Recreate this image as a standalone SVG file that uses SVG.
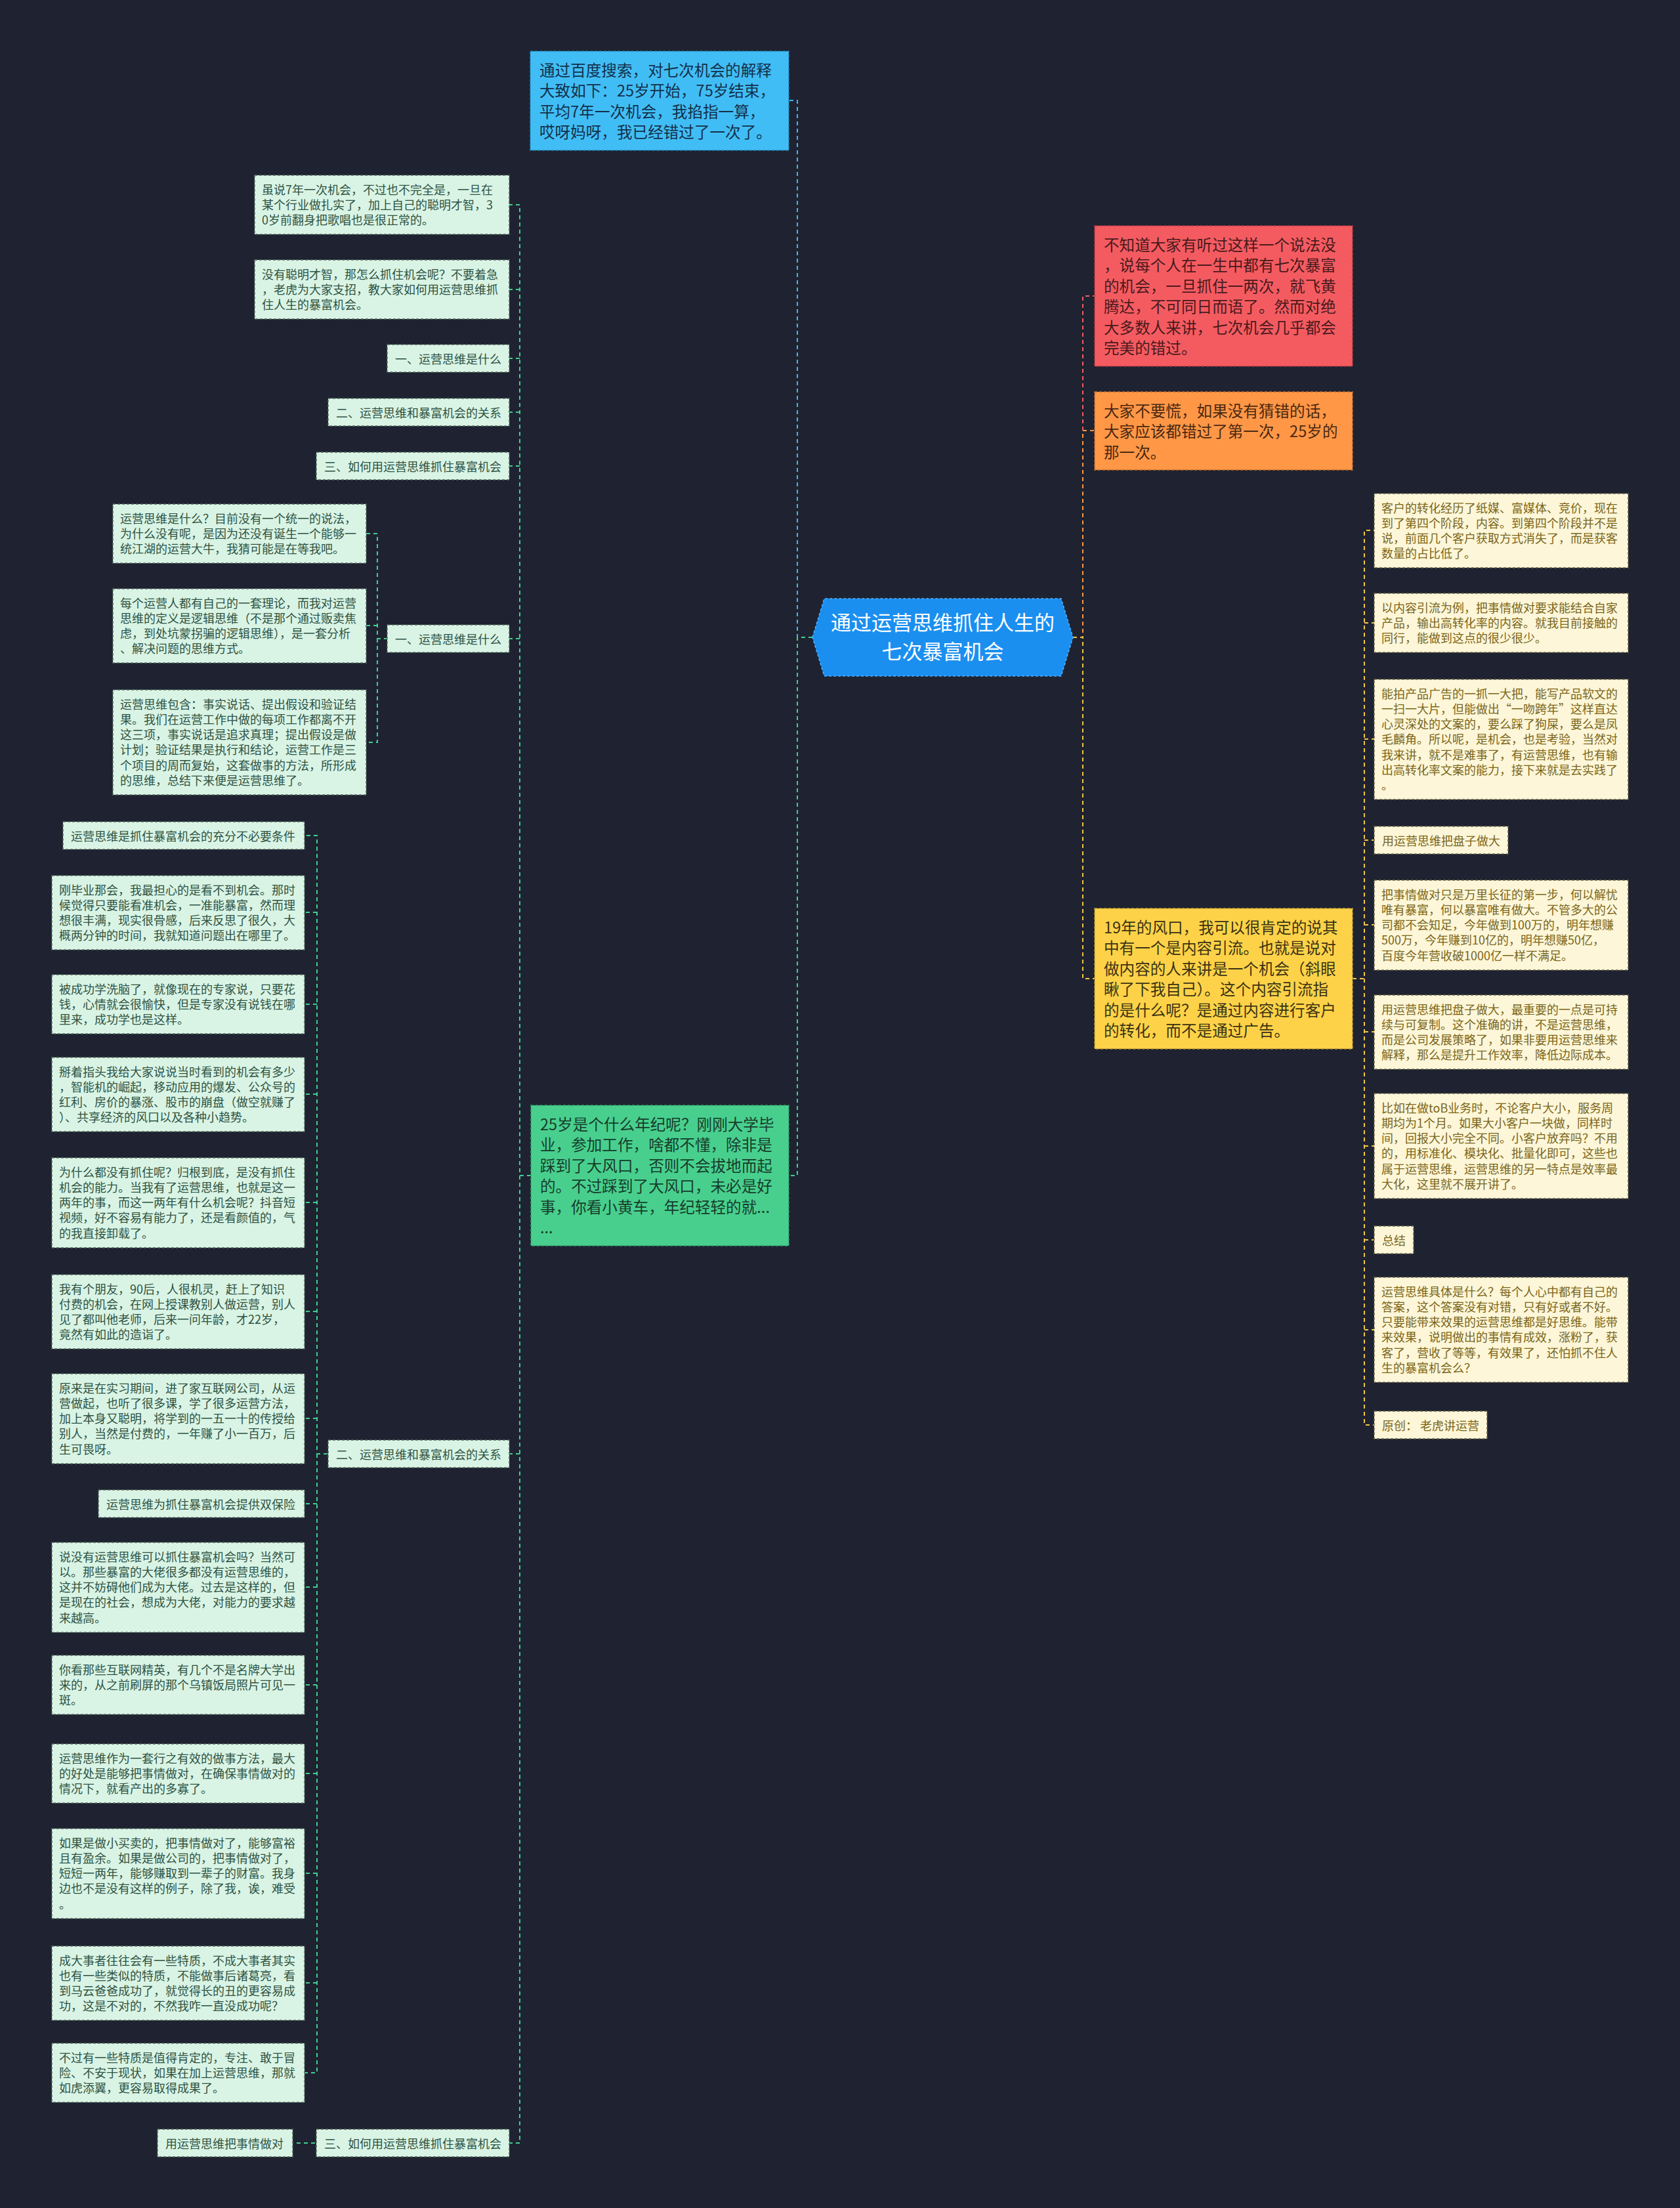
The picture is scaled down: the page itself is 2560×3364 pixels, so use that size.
<svg xmlns="http://www.w3.org/2000/svg" width="2560" height="3364" viewBox="0 0 2560 3364">
<style>
text{font-family:"Noto Sans CJK SC","Noto Sans",sans-serif;}
.bg{fill:#1f2331;}
.lg{fill:#d9f4e5;stroke:#55695f;stroke-width:1.5;stroke-dasharray:4 3;}
.ly{fill:#fdf6d8;stroke:#6e6548;stroke-width:1.5;stroke-dasharray:4 3;}
.tg{font-size:18px;fill:#2e5242;}
.ty{font-size:18px;fill:#7a6518;}
.t1{font-size:23.6px;}
.c{fill:none;stroke-width:2;stroke-dasharray:6 5;}
.cg{stroke:#3fcf8f;}
.cy{stroke:#f2c443;}
.cb{stroke:#3cb9f0;}
.cr{stroke:#f25a5f;}
.co{stroke:#ff9844;}
</style>
<rect class="bg" x="0" y="0" width="2560" height="3364"/>

<g id="connectors">
<path class="c cb" d="M1238,971 H1215 V153 H1202"/>
<path class="c cg" d="M1238,971 H1215 V1791 H1202"/>
<path class="c cr" d="M1635,971 H1650 V451 H1668"/>
<path class="c co" d="M1635,971 H1650 V656 H1668"/>
<path class="c cy" d="M1635,971 H1650 V1491 H1668"/>
<path class="c cg" d="M809,1791 H792 V312 H776 M792,441 H776 M792,546 H776 M792,628 H776 M792,710 H776 M792,973 H776 M792,2215 H776 M792,1791 V3265 H776"/>
<path class="c cg" d="M591,973 H575 V813 H558 M575,973 V1131 H558 M575,953 H558"/>
<path class="c cg" d="M499,2215 H483 V1273 H464 M483,1390 H464 M483,1530 H464 M483,1667 H464 M483,1832 H464 M483,1998 H464 M483,2161 H464 M483,2215 V3158 H464 M483,2291 H464 M483,2418 H464 M483,2567 H464 M483,2702 H464 M483,2854 H464 M483,3021 H464"/>
<path class="c cg" d="M480,3265 H446"/>
<path class="c cy" d="M2061,1491 H2079 V808 H2094 M2079,949 H2094 M2079,1126 H2094 M2079,1280 H2094 M2079,1491 V2171 H2094 M2079,1409 H2094 M2079,1572 H2094 M2079,1746 H2094 M2079,1889 H2094 M2079,2026 H2094"/>
</g>

<g id="n-center">
<polygon points="1238,971 1256,912 1617,912 1635,971 1617,1030 1256,1030" fill="#1b8ff0" stroke="#4fb0ff" stroke-width="1.5" stroke-dasharray="4 3"/>
<text x="1436.5" y="960" font-size="31" fill="#ffffff" text-anchor="middle">通过运营思维抓住人生的</text>
<text x="1436.5" y="1004" font-size="31" fill="#ffffff" text-anchor="middle">七次暴富机会</text>
</g>

<g id="n-blue">
<rect x="808" y="78" width="394" height="151" fill="#41bdf5" stroke="#2384b8" stroke-width="1.5" stroke-dasharray="4 3"/>
<text class="t1" fill="#13304a"><tspan x="822" y="115.5">通过百度搜索，对七次机会的解释</tspan><tspan x="822" y="147">大致如下：25岁开始，75岁结束，</tspan><tspan x="822" y="178.5">平均7年一次机会，我掐指一算，</tspan><tspan x="822" y="210">哎呀妈呀，我已经错过了一次了。</tspan></text>
</g>

<g id="n-red">
<rect x="1668" y="344" width="393" height="214" fill="#f45b61" stroke="#b83a40" stroke-width="1.5" stroke-dasharray="4 3"/>
<text class="t1" fill="#4a1a1c"><tspan x="1682" y="381.5">不知道大家有听过这样一个说法没</tspan><tspan x="1682" y="413">，说每个人在一生中都有七次暴富</tspan><tspan x="1682" y="444.5">的机会，一旦抓住一两次，就飞黄</tspan><tspan x="1682" y="476">腾达，不可同日而语了。然而对绝</tspan><tspan x="1682" y="507.5">大多数人来讲，七次机会几乎都会</tspan><tspan x="1682" y="539">完美的错过。</tspan></text>
</g>

<g id="n-orange">
<rect x="1668" y="597" width="393" height="119" fill="#ff9747" stroke="#c46e2e" stroke-width="1.5" stroke-dasharray="4 3"/>
<text class="t1" fill="#4a2810"><tspan x="1682" y="634.5">大家不要慌，如果没有猜错的话，</tspan><tspan x="1682" y="666">大家应该都错过了第一次，25岁的</tspan><tspan x="1682" y="697.5">那一次。</tspan></text>
</g>

<g id="n-yellow">
<rect x="1668" y="1384" width="393" height="214" fill="#fdd248" stroke="#bf9c30" stroke-width="1.5" stroke-dasharray="4 3"/>
<text class="t1" fill="#3b3213"><tspan x="1682" y="1421.5">19年的风口，我可以很肯定的说其</tspan><tspan x="1682" y="1453">中有一个是内容引流。也就是说对</tspan><tspan x="1682" y="1484.5">做内容的人来讲是一个机会（斜眼</tspan><tspan x="1682" y="1516">瞅了下我自己）。这个内容引流指</tspan><tspan x="1682" y="1547.5">的是什么呢？是通过内容进行客户</tspan><tspan x="1682" y="1579">的转化，而不是通过广告。</tspan></text>
</g>

<g id="n-green">
<rect x="809" y="1684" width="393" height="214" fill="#48cf8e" stroke="#2f9e68" stroke-width="1.5" stroke-dasharray="4 3"/>
<text class="t1" fill="#163d2a"><tspan x="823" y="1721.5">25岁是个什么年纪呢？刚刚大学毕</tspan><tspan x="823" y="1753">业，参加工作，啥都不懂，除非是</tspan><tspan x="823" y="1784.5">踩到了大风口，否则不会拔地而起</tspan><tspan x="823" y="1816">的。不过踩到了大风口，未必是好</tspan><tspan x="823" y="1847.5">事，你看小黄车，年纪轻轻的就...</tspan><tspan x="823" y="1879">...</tspan></text>
</g>

<g id="g1"><rect class="lg" x="388" y="267" width="388" height="90"/><text class="tg"><tspan x="399" y="295.5">虽说7年一次机会，不过也不完全是，一旦在</tspan><tspan x="399" y="318.8">某个行业做扎实了，加上自己的聪明才智，3</tspan><tspan x="399" y="342.1">0岁前翻身把歌唱也是很正常的。</tspan></text></g>
<g id="g2"><rect class="lg" x="388" y="396" width="388" height="90"/><text class="tg"><tspan x="399" y="424.5">没有聪明才智，那怎么抓住机会呢？不要着急</tspan><tspan x="399" y="447.8">，老虎为大家支招，教大家如何用运营思维抓</tspan><tspan x="399" y="471.1">住人生的暴富机会。</tspan></text></g>
<g id="g3"><rect class="lg" x="590" y="525" width="186" height="42"/><text class="tg" x="602" y="553.5">一、运营思维是什么</text></g>
<g id="g4"><rect class="lg" x="500" y="607" width="276" height="42"/><text class="tg" x="512" y="635.5">二、运营思维和暴富机会的关系</text></g>
<g id="g5"><rect class="lg" x="482" y="689" width="294" height="42"/><text class="tg" x="494" y="717.5">三、如何用运营思维抓住暴富机会</text></g>

<g id="g6"><rect class="lg" x="590" y="952" width="186" height="42"/><text class="tg" x="602" y="980.5">一、运营思维是什么</text></g>
<g id="c1"><rect class="lg" x="172" y="768" width="386" height="90"/><text class="tg"><tspan x="183" y="796.5">运营思维是什么？目前没有一个统一的说法，</tspan><tspan x="183" y="819.8">为什么没有呢，是因为还没有诞生一个能够一</tspan><tspan x="183" y="843.1">统江湖的运营大牛，我猜可能是在等我吧。</tspan></text></g>
<g id="c2"><rect class="lg" x="172" y="897" width="386" height="113"/><text class="tg"><tspan x="183" y="925.5">每个运营人都有自己的一套理论，而我对运营</tspan><tspan x="183" y="948.8">思维的定义是逻辑思维（不是那个通过贩卖焦</tspan><tspan x="183" y="972.1">虑，到处坑蒙拐骗的逻辑思维），是一套分析</tspan><tspan x="183" y="995.4">、解决问题的思维方式。</tspan></text></g>
<g id="c3"><rect class="lg" x="172" y="1051" width="386" height="160"/><text class="tg"><tspan x="183" y="1079.5">运营思维包含：事实说话、提出假设和验证结</tspan><tspan x="183" y="1102.8">果。我们在运营工作中做的每项工作都离不开</tspan><tspan x="183" y="1126.1">这三项，事实说话是追求真理；提出假设是做</tspan><tspan x="183" y="1149.4">计划；验证结果是执行和结论，运营工作是三</tspan><tspan x="183" y="1172.7">个项目的周而复始，这套做事的方法，所形成</tspan><tspan x="183" y="1196">的思维，总结下来便是运营思维了。</tspan></text></g>

<g id="g7"><rect class="lg" x="500" y="2194" width="276" height="42"/><text class="tg" x="512" y="2222.5">二、运营思维和暴富机会的关系</text></g>
<g id="d1"><rect class="lg" x="96" y="1252" width="368" height="42"/><text class="tg" x="108" y="1280.5">运营思维是抓住暴富机会的充分不必要条件</text></g>
<g id="d2"><rect class="lg" x="79" y="1334" width="385" height="113"/><text class="tg"><tspan x="90" y="1362.5">刚毕业那会，我最担心的是看不到机会。那时</tspan><tspan x="90" y="1385.8">候觉得只要能看准机会，一准能暴富，然而理</tspan><tspan x="90" y="1409.1">想很丰满，现实很骨感，后来反思了很久，大</tspan><tspan x="90" y="1432.4">概两分钟的时间，我就知道问题出在哪里了。</tspan></text></g>
<g id="d3"><rect class="lg" x="79" y="1485" width="385" height="90"/><text class="tg"><tspan x="90" y="1513.5">被成功学洗脑了，就像现在的专家说，只要花</tspan><tspan x="90" y="1536.8">钱，心情就会很愉快，但是专家没有说钱在哪</tspan><tspan x="90" y="1560.1">里来，成功学也是这样。</tspan></text></g>
<g id="d4"><rect class="lg" x="79" y="1611" width="385" height="113"/><text class="tg"><tspan x="90" y="1639.5">掰着指头我给大家说说当时看到的机会有多少</tspan><tspan x="90" y="1662.8">，智能机的崛起，移动应用的爆发、公众号的</tspan><tspan x="90" y="1686.1">红利、房价的暴涨、股市的崩盘（做空就赚了</tspan><tspan x="90" y="1709.4">）、共享经济的风口以及各种小趋势。</tspan></text></g>
<g id="d5"><rect class="lg" x="79" y="1764" width="385" height="137"/><text class="tg"><tspan x="90" y="1792.5">为什么都没有抓住呢？归根到底，是没有抓住</tspan><tspan x="90" y="1815.8">机会的能力。当我有了运营思维，也就是这一</tspan><tspan x="90" y="1839.1">两年的事，而这一两年有什么机会呢？抖音短</tspan><tspan x="90" y="1862.4">视频，好不容易有能力了，还是看颜值的，气</tspan><tspan x="90" y="1885.7">的我直接卸载了。</tspan></text></g>
<g id="d6"><rect class="lg" x="79" y="1942" width="385" height="113"/><text class="tg"><tspan x="90" y="1970.5">我有个朋友，90后，人很机灵，赶上了知识</tspan><tspan x="90" y="1993.8">付费的机会，在网上授课教别人做运营，别人</tspan><tspan x="90" y="2017.1">见了都叫他老师，后来一问年龄，才22岁，</tspan><tspan x="90" y="2040.4">竟然有如此的造诣了。</tspan></text></g>
<g id="d7"><rect class="lg" x="79" y="2093" width="385" height="137"/><text class="tg"><tspan x="90" y="2121.5">原来是在实习期间，进了家互联网公司，从运</tspan><tspan x="90" y="2144.8">营做起，也听了很多课，学了很多运营方法，</tspan><tspan x="90" y="2168.1">加上本身又聪明，将学到的一五一十的传授给</tspan><tspan x="90" y="2191.4">别人，当然是付费的，一年赚了小一百万，后</tspan><tspan x="90" y="2214.7">生可畏呀。</tspan></text></g>
<g id="d8"><rect class="lg" x="150" y="2270" width="314" height="42"/><text class="tg" x="162" y="2298.5">运营思维为抓住暴富机会提供双保险</text></g>
<g id="d9"><rect class="lg" x="79" y="2350" width="385" height="137"/><text class="tg"><tspan x="90" y="2378.5">说没有运营思维可以抓住暴富机会吗？当然可</tspan><tspan x="90" y="2401.8">以。那些暴富的大佬很多都没有运营思维的，</tspan><tspan x="90" y="2425.1">这并不妨碍他们成为大佬。过去是这样的，但</tspan><tspan x="90" y="2448.4">是现在的社会，想成为大佬，对能力的要求越</tspan><tspan x="90" y="2471.7">来越高。</tspan></text></g>
<g id="d10"><rect class="lg" x="79" y="2522" width="385" height="90"/><text class="tg"><tspan x="90" y="2550.5">你看那些互联网精英，有几个不是名牌大学出</tspan><tspan x="90" y="2573.8">来的，从之前刷屏的那个乌镇饭局照片可见一</tspan><tspan x="90" y="2597.1">斑。</tspan></text></g>
<g id="d11"><rect class="lg" x="79" y="2657" width="385" height="90"/><text class="tg"><tspan x="90" y="2685.5">运营思维作为一套行之有效的做事方法，最大</tspan><tspan x="90" y="2708.8">的好处是能够把事情做对，在确保事情做对的</tspan><tspan x="90" y="2732.1">情况下，就看产出的多寡了。</tspan></text></g>
<g id="d12"><rect class="lg" x="79" y="2786" width="385" height="137"/><text class="tg"><tspan x="90" y="2814.5">如果是做小买卖的，把事情做对了，能够富裕</tspan><tspan x="90" y="2837.8">且有盈余。如果是做公司的，把事情做对了，</tspan><tspan x="90" y="2861.1">短短一两年，能够赚取到一辈子的财富。我身</tspan><tspan x="90" y="2884.4">边也不是没有这样的例子，除了我，诶，难受</tspan><tspan x="90" y="2907.7">。</tspan></text></g>
<g id="d13"><rect class="lg" x="79" y="2965" width="385" height="113"/><text class="tg"><tspan x="90" y="2993.5">成大事者往往会有一些特质，不成大事者其实</tspan><tspan x="90" y="3016.8">也有一些类似的特质，不能做事后诸葛亮，看</tspan><tspan x="90" y="3040.1">到马云爸爸成功了，就觉得长的丑的更容易成</tspan><tspan x="90" y="3063.4">功，这是不对的，不然我咋一直没成功呢？</tspan></text></g>
<g id="d14"><rect class="lg" x="79" y="3113" width="385" height="90"/><text class="tg"><tspan x="90" y="3141.5">不过有一些特质是值得肯定的，专注、敢于冒</tspan><tspan x="90" y="3164.8">险、不安于现状，如果在加上运营思维，那就</tspan><tspan x="90" y="3188.1">如虎添翼，更容易取得成果了。</tspan></text></g>

<g id="g8"><rect class="lg" x="482" y="3244" width="294" height="42"/><text class="tg" x="494" y="3272.5">三、如何用运营思维抓住暴富机会</text></g>
<g id="e1"><rect class="lg" x="240" y="3244" width="206" height="42"/><text class="tg" x="252" y="3272.5">用运营思维把事情做对</text></g>

<g id="r1"><rect class="ly" x="2094" y="752" width="387" height="113"/><text class="ty"><tspan x="2105" y="780.5">客户的转化经历了纸媒、富媒体、竞价，现在</tspan><tspan x="2105" y="803.8">到了第四个阶段，内容。到第四个阶段并不是</tspan><tspan x="2105" y="827.1">说，前面几个客户获取方式消失了，而是获客</tspan><tspan x="2105" y="850.4">数量的占比低了。</tspan></text></g>
<g id="r2"><rect class="ly" x="2094" y="904" width="387" height="90"/><text class="ty"><tspan x="2105" y="932.5">以内容引流为例，把事情做对要求能结合自家</tspan><tspan x="2105" y="955.8">产品，输出高转化率的内容。就我目前接触的</tspan><tspan x="2105" y="979.1">同行，能做到这点的很少很少。</tspan></text></g>
<g id="r3"><rect class="ly" x="2094" y="1035" width="387" height="183"/><text class="ty"><tspan x="2105" y="1063.5">能拍产品广告的一抓一大把，能写产品软文的</tspan><tspan x="2105" y="1086.8">一扫一大片，但能做出“一吻跨年”这样直达</tspan><tspan x="2105" y="1110.1">心灵深处的文案的，要么踩了狗屎，要么是凤</tspan><tspan x="2105" y="1133.4">毛麟角。所以呢，是机会，也是考验，当然对</tspan><tspan x="2105" y="1156.7">我来讲，就不是难事了，有运营思维，也有输</tspan><tspan x="2105" y="1180">出高转化率文案的能力，接下来就是去实践了</tspan><tspan x="2105" y="1203.3">。</tspan></text></g>
<g id="r4"><rect class="ly" x="2094" y="1259" width="204" height="42"/><text class="ty" x="2106" y="1287.5">用运营思维把盘子做大</text></g>
<g id="r5"><rect class="ly" x="2094" y="1341" width="387" height="137"/><text class="ty"><tspan x="2105" y="1369.5">把事情做对只是万里长征的第一步，何以解忧</tspan><tspan x="2105" y="1392.8">唯有暴富，何以暴富唯有做大。不管多大的公</tspan><tspan x="2105" y="1416.1">司都不会知足，今年做到100万的，明年想赚</tspan><tspan x="2105" y="1439.4">500万，今年赚到10亿的，明年想赚50亿，</tspan><tspan x="2105" y="1462.7">百度今年营收破1000亿一样不满足。</tspan></text></g>
<g id="r6"><rect class="ly" x="2094" y="1516" width="387" height="113"/><text class="ty"><tspan x="2105" y="1544.5">用运营思维把盘子做大，最重要的一点是可持</tspan><tspan x="2105" y="1567.8">续与可复制。这个准确的讲，不是运营思维，</tspan><tspan x="2105" y="1591.1">而是公司发展策略了，如果非要用运营思维来</tspan><tspan x="2105" y="1614.4">解释，那么是提升工作效率，降低边际成本。</tspan></text></g>
<g id="r7"><rect class="ly" x="2094" y="1666" width="387" height="160"/><text class="ty"><tspan x="2105" y="1694.5">比如在做toB业务时，不论客户大小，服务周</tspan><tspan x="2105" y="1717.8">期均为1个月。如果大小客户一块做，同样时</tspan><tspan x="2105" y="1741.1">间，回报大小完全不同。小客户放弃吗？不用</tspan><tspan x="2105" y="1764.4">的，用标准化、模块化、批量化即可，这些也</tspan><tspan x="2105" y="1787.7">属于运营思维，运营思维的另一特点是效率最</tspan><tspan x="2105" y="1811">大化，这里就不展开讲了。</tspan></text></g>
<g id="r8"><rect class="ly" x="2094" y="1868" width="60" height="42"/><text class="ty" x="2106" y="1896.5">总结</text></g>
<g id="r9"><rect class="ly" x="2094" y="1946" width="387" height="160"/><text class="ty"><tspan x="2105" y="1974.5">运营思维具体是什么？每个人心中都有自己的</tspan><tspan x="2105" y="1997.8">答案，这个答案没有对错，只有好或者不好。</tspan><tspan x="2105" y="2021.1">只要能带来效果的运营思维都是好思维。能带</tspan><tspan x="2105" y="2044.4">来效果，说明做出的事情有成效，涨粉了，获</tspan><tspan x="2105" y="2067.7">客了，营收了等等，有效果了，还怕抓不住人</tspan><tspan x="2105" y="2091">生的暴富机会么？</tspan></text></g>
<g id="r10"><rect class="ly" x="2094" y="2150" width="172" height="42"/><text class="ty" x="2106" y="2178.5">原创： 老虎讲运营</text></g>
</svg>
